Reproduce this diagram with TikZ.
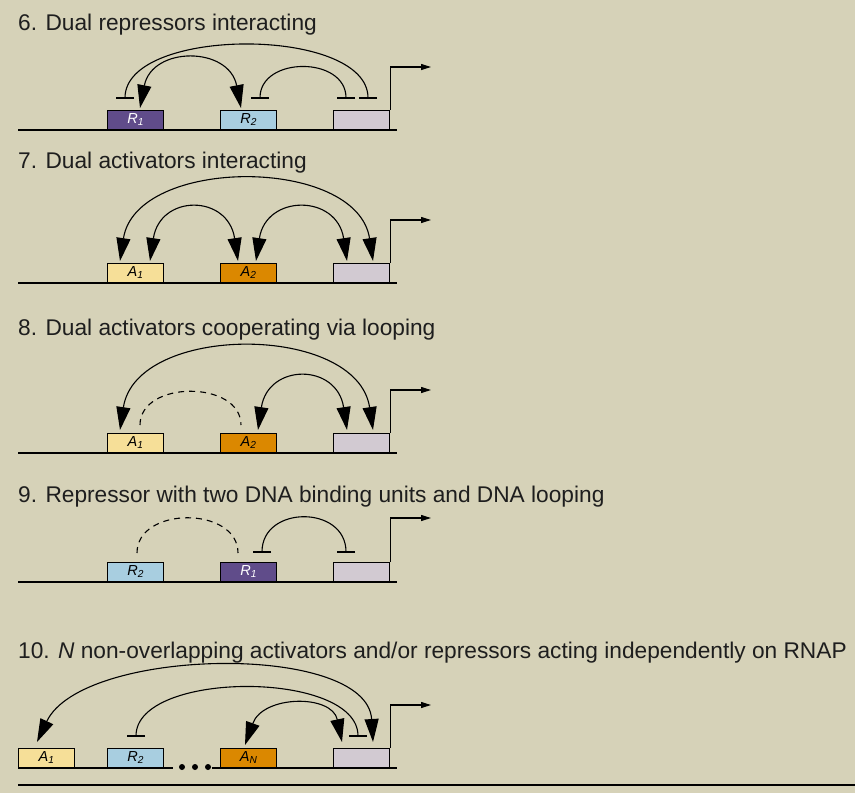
\documentclass[tikz,border=0pt]{standalone}
\usepackage{fontspec}
\setmainfont{Liberation Sans}
\usetikzlibrary{arrows.meta}
\definecolor{bg}{RGB}{214,210,184}
\definecolor{promc}{RGB}{210,202,210}
\definecolor{actA}{RGB}{246,223,152}
\definecolor{actB}{RGB}{219,136,0}
\definecolor{repA}{RGB}{96,76,138}
\definecolor{repB}{RGB}{168,206,224}
\definecolor{ink}{RGB}{30,30,30}
\tikzset{
  gbox/.style={draw=black, line width=1.3pt, minimum width=56pt, minimum height=19pt, inner sep=0pt, anchor=south west, font=\fontsize{14.5}{15}\selectfont\itshape},
  dna/.style={line width=1.4pt},
  title/.style={anchor=base west, inner sep=0pt, text=ink, font=\fontsize{22.7}{26}\selectfont},
  act/.style={line width=1.1pt, {Triangle[length=23pt,width=14pt]}-{Triangle[length=23pt,width=14pt]}},
  rep/.style={line width=1.1pt, {Bar[width=18pt,line width=1.6pt]}-{Bar[width=18pt,line width=1.6pt]}},
  loopd/.style={line width=1.1pt, dash pattern=on 6pt off 5pt},
  prom/.style={line width=1.1pt, -{Triangle[length=10pt,width=6pt]}},
}
\begin{document}
\begin{tikzpicture}[x=1pt,y=-1pt]
\useasboundingbox (0,0) rectangle (855,793);
\fill[bg] (0,0) rectangle (855,793);

% ---------- Panel 6 ----------
\node[title] (t6) at (18,30) {6. Dual repressors interacting};
\draw[dna] (18,130) coordinate (d6a) -- (397,130) coordinate (d6b);
\node[gbox, fill=repA, text=white] (r1a) at (107,130) {R\textsubscript{1}};
\node[gbox, fill=repB] (r2a) at (220,130) {R\textsubscript{2}};
\node[gbox, fill=promc] (p6) at (333,130) {};
\coordinate (e6) at (431,67);
\draw[prom] (p6.north east) |- (e6);
\coordinate (b6a) at (125,99); \coordinate (b6b) at (368,99);
\draw[rep] (b6a) .. controls +(0,-73) and +(0,-73) .. (b6b);
\coordinate (m6a) at (140,108); \coordinate (m6b) at (241,108);
\draw[act] (m6a) .. controls +(12,-62) and +(-12,-62) .. (m6b);
\coordinate (s6a) at (260,99); \coordinate (s6b) at (346,99);
\draw[rep] (s6a) .. controls +(0,-43) and +(0,-43) .. (s6b);

% ---------- Panel 7 ----------
\node[title] (t7) at (18,168) {7. Dual activators interacting};
\draw[dna] (18,283) coordinate (d7a) -- (397,283) coordinate (d7b);
\node[gbox, fill=actA] (a1b) at (107,283) {A\textsubscript{1}};
\node[gbox, fill=actB] (a2b) at (220,283) {A\textsubscript{2}};
\node[gbox, fill=promc] (p7) at (333,283) {};
\coordinate (e7) at (431,220);
\draw[prom] (p7.north east) |- (e7);
\coordinate (b7a) at (120,261); \coordinate (b7b) at (373,261);
\draw[act] (b7a) .. controls +(16,-105) and +(-16,-105) .. (b7b);
\coordinate (l7a) at (150,261); \coordinate (l7b) at (238,261);
\draw[act] (l7a) .. controls +(10,-67) and +(-10,-67) .. (l7b);
\coordinate (r7a) at (256,261); \coordinate (r7b) at (347,261);
\draw[act] (r7a) .. controls +(10,-67) and +(-10,-67) .. (r7b);

% ---------- Panel 8 ----------
\node[title] (t8) at (18,335) {8. Dual activators cooperating via looping};
\draw[dna] (18,453) coordinate (d8a) -- (397,453) coordinate (d8b);
\node[gbox, fill=actA] (a1c) at (107,453) {A\textsubscript{1}};
\node[gbox, fill=actB] (a2c) at (220,453) {A\textsubscript{2}};
\node[gbox, fill=promc] (p8) at (333,453) {};
\coordinate (e8) at (431,390);
\draw[prom] (p8.north east) |- (e8);
\coordinate (b8a) at (120,430); \coordinate (b8b) at (373,430);
\draw[act] (b8a) .. controls +(16,-107) and +(-16,-107) .. (b8b);
\coordinate (l8a) at (140,425); \coordinate (l8b) at (241,425);
\draw[loopd] (l8a) .. controls +(0,-45) and +(0,-45) .. (l8b);
\coordinate (r8a) at (258,430); \coordinate (r8b) at (347,430);
\draw[act] (r8a) .. controls +(10,-67) and +(-10,-67) .. (r8b);

% ---------- Panel 9 ----------
\node[title] (t9) at (18,502) {9. Repressor with two DNA binding units and DNA looping};
\draw[dna] (18,582) coordinate (d9a) -- (397,582) coordinate (d9b);
\node[gbox, fill=repB] (r2d) at (107,582) {R\textsubscript{2}};
\node[gbox, fill=repA, text=white] (r1d) at (220,582) {R\textsubscript{1}};
\node[gbox, fill=promc] (p9) at (333,582) {};
\coordinate (e9) at (431,518);
\draw[prom] (p9.north east) |- (e9);
\coordinate (l9a) at (137,553); \coordinate (l9b) at (238,553);
\draw[loopd] (l9a) .. controls +(0,-47) and +(0,-47) .. (l9b);
\coordinate (r9a) at (262,553); \coordinate (r9b) at (346,553);
\draw[rep] (r9a) .. controls +(0,-48) and +(0,-48) .. (r9b);

% ---------- Panel 10 ----------
\node[title] (t10) at (18,658) {10. \textit{N} non-overlapping activators and/or repressors acting independently on RNAP};
\draw[dna] (18,768) coordinate (d10a) -- (173,768) coordinate (d10b);
\draw[dna] (212,768) coordinate (d10c) -- (397,768) coordinate (d10d);
\node[gbox, fill=actA] (a1e) at (18,768) {A\textsubscript{1}};
\node[gbox, fill=repB] (r2e) at (107,768) {R\textsubscript{2}};
\node[gbox, fill=actB] (ane) at (220,768) {A\textsubscript{N}};
\node[gbox, fill=promc] (p10) at (333,768) {};
\foreach \i/\x in {1/182,2/195,3/208} \fill (\x,767) circle (3) coordinate (dot\i);
\coordinate (e10) at (431,705);
\draw[prom] (p10.north east) |- (e10);
\coordinate (b10a) at (37,742); \coordinate (b10b) at (373,742);
\draw[act] (b10a) .. controls +(45,-95) and +(-6,-100) .. (b10b);
\coordinate (m10a) at (136,737); \coordinate (m10b) at (358,737);
\draw[rep] (m10a) .. controls +(0,-67) and +(0,-67) .. (m10b);
\coordinate (s10a) at (245,745); \coordinate (s10b) at (342,742);
\draw[act] (s10a) .. controls +(18,-50) and +(-10,-48) .. (s10b);

% bottom rule
\draw[line width=1.6pt] (18,785) coordinate (ra) -- (855,785) coordinate (rb);
\end{tikzpicture}
\end{document}
